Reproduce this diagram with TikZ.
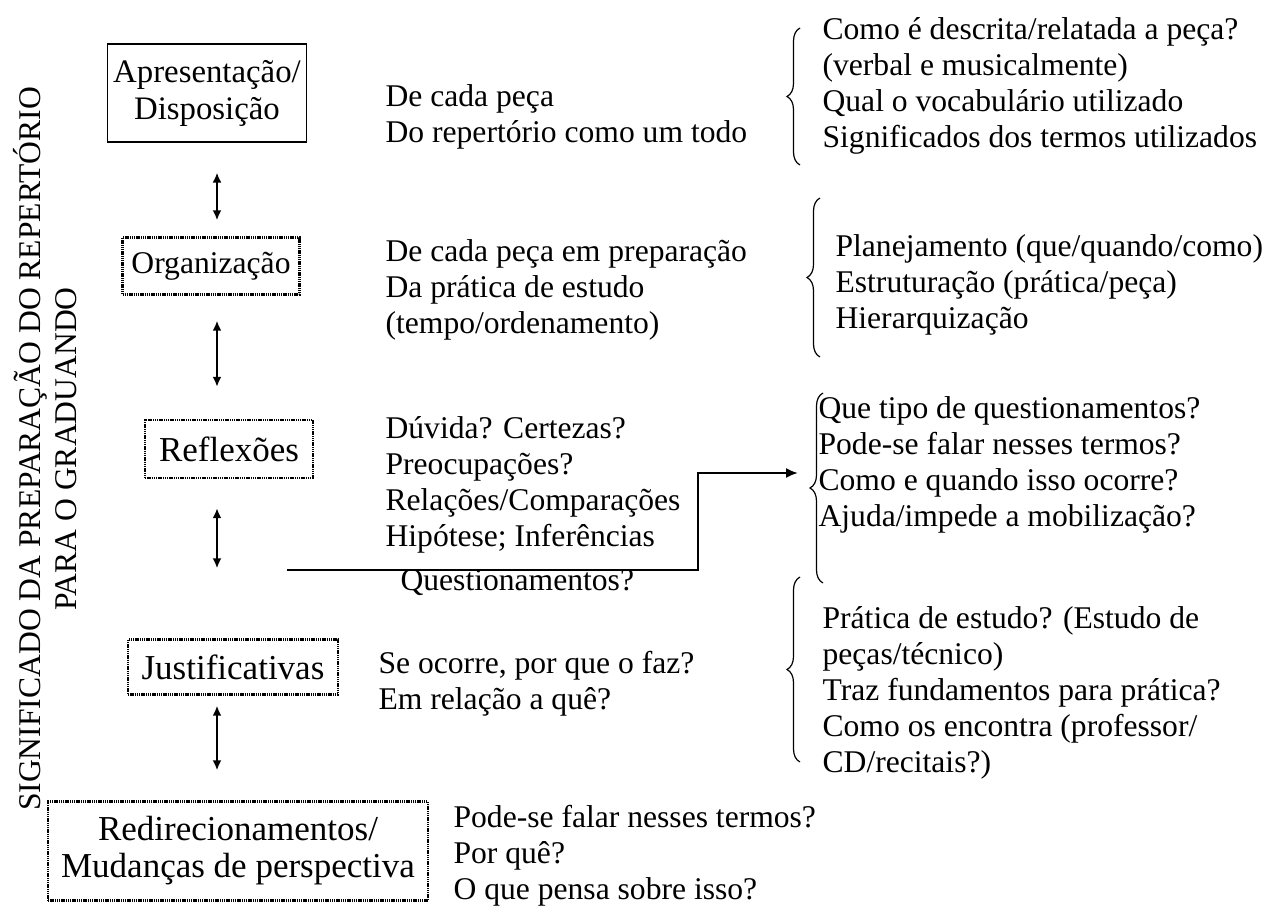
\documentclass[tikz,border=0pt]{standalone}
\usepackage{fontspec}
\setmainfont{Liberation Serif}
\usetikzlibrary{arrows.meta,decorations.pathreplacing}
\newcommand{\sidefont}{\fontsize{15.8}{18}\selectfont}
\newcommand{\stagefont}{\fontsize{17.5}{18.5}\selectfont}
\newcommand{\topfont}{\fontsize{16.4}{18.5}\selectfont}

\begin{document}
\begin{tikzpicture}[x=0.5pt,y=-0.5pt,line width=0.6pt,
    stage/.style={draw,line width=0.6pt,align=center,inner sep=0pt,font=\stagefont},
    dotstage/.style={stage,line width=1.2pt,dash pattern=on 0.7pt off 0.4pt},
    notes/.style={anchor=west,align=left,inner sep=0pt,font=\sidefont},
    updown/.style={{Latex[length=5pt,width=4.5pt]}-{Latex[length=5pt,width=4.5pt]},line width=1pt},
    curly/.style={decorate,decoration={brace,amplitude=6.5pt},line width=0.6pt}]
  \useasboundingbox (0,0) rectangle (1275,911);
  \coordinate (axis) at (217,0);

  % title along the left side
  \node[rotate=90,align=center,font=\sidefont] (title) at (45,449)
    {SIGNIFICADO DA PREPARAÇÃO DO REPERTÓRIO\\PARA O GRADUANDO};

  % stages
  \node[stage,font=\topfont,minimum width=99.5pt,minimum height=49pt] (apres) at (207,93)
    {Apresentação/\\Disposição};
  \node[dotstage,font=\sidefont,minimum width=88.5pt,minimum height=28.5pt] (organ) at (211,266) {Organização};
  \node[dotstage,minimum width=84pt,minimum height=29pt] (reflex) at (229,449) {Reflexões};
  \node[dotstage,minimum width=105pt,minimum height=27.5pt] (justif) at (233,667) {Justificativas};
  \node[dotstage,minimum width=190pt,minimum height=49.5pt] (redir) at (238,851)
    {Redirecionamentos/\\Mudanças de perspectiva};

  \draw[updown,shorten <=15pt,shorten >=8pt] (apres.south -| axis) -- (organ.north -| axis);
  \draw[updown,shorten <=12.5pt,shorten >=16pt] (organ.south -| axis) -- (reflex.north -| axis);
  \draw[updown,shorten <=14.5pt,shorten >=35pt] (reflex.south -| axis) -- (justif.north -| axis);
  \draw[updown,shorten <=5pt,shorten >=15pt] (justif.south -| axis) -- (redir.north -| axis);

  % middle column
  \node[notes] (apresTxt) at (385,117) {De cada peça\\Do repertório como um todo};
  \node[notes] (organTxt) at (385,290) {De cada peça em preparação\\Da prática de estudo\\(tempo/ordenamento)};
  \node[notes] (reflexTxt) at (385,485) {Dúvida? Certezas?\\Preocupações?\\Relações/Comparações\\Hipótese; Inferências};
  \node[notes] (quest) at (400,583) {Questionamentos?};
  \node[notes] (justifTxt) at (378,684) {Se ocorre, por que o faz?\\Em relação a quê?};
  \node[notes] (redirTxt) at (453,856) {Pode-se falar nesses termos?\\Por quê?\\O que pensa sobre isso?};

  % right column
  \draw[curly] (800,165) -- (800,28);
  \node[notes] (apresQ) at (822,86) {Como é descrita/relatada a peça?\\(verbal e musicalmente)\\Qual o vocabulário utilizado\\Significados dos termos utilizados};
  \draw[curly] (820,357) -- (820,198);
  \node[notes] (organQ) at (835,285) {Planejamento (que/quando/como)\\Estruturação (prática/peça)\\Hierarquização};
  \draw[curly] (823,583) -- (823,393);
  \node[notes] (reflexQ) at (818,465) {Que tipo de questionamentos?\\Pode-se falar nesses termos?\\Como e quando isso ocorre?\\Ajuda/impede a mobilização?};
  \draw[curly] (800,762) -- (800,577);
  \node[notes] (justifQ) at (822,693) {Prática de estudo? (Estudo de\\peças/técnico)\\Traz fundamentos para prática?\\Como os encontra (professor/\\CD/recitais?)};

  % link from the reflections to their questions
  \coordinate (questFrom) at (287,570);
  \coordinate (questBend) at (698,570);
  \coordinate (questTo) at (798,473);
  \draw[-{Latex[length=6pt,width=5pt]},line width=1pt] (questFrom) -- (questBend) |- (questTo);
\end{tikzpicture}
\end{document}
